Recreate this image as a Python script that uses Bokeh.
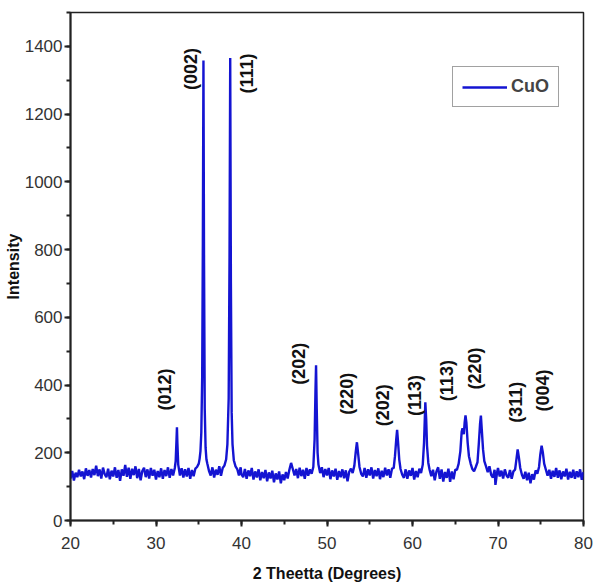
import math
from bokeh.plotting import figure
from bokeh.models import ColumnDataSource, SingleIntervalTicker, Legend, LegendItem, Range1d
from bokeh.core.properties import value
from bokeh.embed import file_html
from bokeh.resources import INLINE

# 2-theta (degrees) and intensity
two_theta = [
    20.0, 20.2, 20.4, 20.6, 20.8, 21.0, 21.2, 21.4, 21.6, 21.8,
    22.0, 22.2, 22.4, 22.6, 22.8, 23.0, 23.2, 23.4, 23.6, 23.8,
    24.0, 24.2, 24.4, 24.6, 24.8, 25.0, 25.2, 25.4, 25.6, 25.8,
    26.0, 26.2, 26.4, 26.6, 26.8, 27.0, 27.2, 27.4, 27.6, 27.8,
    28.0, 28.2, 28.4, 28.6, 28.8, 29.0, 29.2, 29.4, 29.6, 29.8,
    30.0, 30.2, 30.4, 30.6, 30.8, 31.0, 31.2, 31.4, 31.6, 31.8,
    32.0, 32.2, 32.3, 32.4, 32.45, 32.5, 32.6, 32.8, 33.0, 33.2,
    33.4, 33.6, 33.8, 34.0, 34.2, 34.4, 34.6, 34.8, 35.0, 35.1,
    35.2, 35.3, 35.4, 35.48, 35.55, 35.62, 35.7, 35.8, 35.9, 36.0,
    36.2, 36.4, 36.6, 36.8, 37.0, 37.2, 37.4, 37.6, 37.8, 38.0,
    38.2, 38.35, 38.5, 38.6, 38.68, 38.76, 38.85, 38.95, 39.1, 39.3,
    39.5, 39.7, 39.9, 40.0, 40.2, 40.4, 40.6, 40.8, 41.0, 41.2,
    41.4, 41.6, 41.8, 42.0, 42.2, 42.4, 42.6, 42.8, 43.0, 43.2,
    43.4, 43.6, 43.8, 44.0, 44.2, 44.4, 44.6, 44.8, 45.0, 45.2,
    45.4, 45.6, 45.8, 46.0, 46.2, 46.4, 46.6, 46.8, 47.0, 47.2,
    47.4, 47.6, 47.8, 48.0, 48.2, 48.4, 48.55, 48.65, 48.72, 48.8,
    48.9, 49.0, 49.2, 49.4, 49.6, 49.8, 50.0, 50.2, 50.4, 50.6,
    50.8, 51.0, 51.2, 51.4, 51.6, 51.8, 52.0, 52.2, 52.4, 52.6,
    52.8, 53.0, 53.2, 53.35, 53.5, 53.65, 53.8, 54.0, 54.2, 54.4,
    54.6, 54.8, 55.0, 55.2, 55.4, 55.6, 55.8, 56.0, 56.2, 56.4,
    56.6, 56.8, 57.0, 57.2, 57.4, 57.6, 57.8, 57.95, 58.1, 58.2,
    58.3, 58.45, 58.6, 58.8, 59.0, 59.2, 59.4, 59.6, 59.8, 60.0,
    60.2, 60.4, 60.6, 60.8, 61.0, 61.2, 61.35, 61.5, 61.6, 61.7,
    61.85, 62.0, 62.2, 62.4, 62.6, 62.8, 63.0, 63.2, 63.4, 63.6,
    63.8, 64.0, 64.2, 64.4, 64.6, 64.8, 65.0, 65.2, 65.4, 65.6,
    65.75, 65.85, 66.0, 66.1, 66.2, 66.3, 66.45, 66.6, 66.8, 67.0,
    67.2, 67.4, 67.6, 67.75, 67.9, 68.0, 68.1, 68.25, 68.4, 68.6,
    68.8, 69.0, 69.2, 69.4, 69.6, 69.7, 69.9, 70.0, 70.2, 70.4,
    70.6, 70.8, 71.0, 71.2, 71.4, 71.6, 71.8, 72.0, 72.15, 72.3,
    72.45, 72.6, 72.8, 73.0, 73.2, 73.4, 73.6, 73.8, 74.0, 74.2,
    74.4, 74.6, 74.8, 74.95, 75.1, 75.25, 75.4, 75.6, 75.8, 76.0,
    76.2, 76.4, 76.6, 76.8, 77.0, 77.2, 77.4, 77.6, 77.8, 78.0,
    78.2, 78.4, 78.6, 78.8, 79.0, 79.2, 79.4, 79.6, 79.8, 80.0,
]
intensity = [
    124, 146, 118, 141, 128, 150, 130, 145, 122, 154,
    132, 149, 127, 152, 134, 162, 131, 151, 124, 156,
    137, 128, 153, 122, 147, 130, 157, 126, 149, 117,
    151, 132, 164, 129, 156, 123, 153, 134, 160, 125,
    152, 119, 146, 156, 128, 151, 124, 155, 132, 150,
    121, 146, 128, 154, 123, 149, 131, 157, 126, 152,
    133, 155, 175, 240, 275, 230, 165, 133, 154, 127,
    151, 130, 155, 123, 149, 131, 153, 158, 168, 182,
    205, 260, 420, 820, 1358, 760, 330, 215, 180, 168,
    146, 133, 157, 127, 150, 135, 160, 132, 155, 162,
    180, 225, 360, 780, 1366, 700, 320, 225, 178, 160,
    152, 133, 157, 136, 128, 152, 123, 148, 131, 155,
    121, 145, 127, 151, 119, 143, 125, 149, 116, 142,
    124, 147, 113, 139, 121, 145, 110, 136, 119, 143,
    124, 150, 170, 152, 133, 152, 125, 156, 131, 150,
    123, 155, 132, 151, 138, 158, 240, 380, 458, 330,
    200, 165, 140, 157, 128, 152, 133, 155, 122, 148,
    130, 153, 120, 146, 128, 151, 125, 148, 116, 144,
    153, 140, 162, 200, 231, 195, 158, 138, 130, 155,
    126, 151, 133, 157, 124, 149, 131, 154, 122, 147,
    128, 156, 133, 151, 126, 153, 155, 190, 240, 268,
    235, 180, 152, 135, 126, 151, 123, 148, 132, 155,
    121, 146, 128, 153, 140, 165, 230, 349, 300, 220,
    170, 150, 131, 150, 119, 145, 157, 123, 151, 115,
    143, 126, 153, 114, 145, 122, 150, 150, 168, 205,
    262, 272, 255, 290, 310, 290, 230, 190, 168, 152,
    145, 158, 172, 225, 285, 310, 270, 210, 175, 160,
    143, 160, 135, 127, 150, 105, 143, 155, 130, 147,
    124, 151, 133, 126, 149, 123, 145, 150, 180, 210,
    185, 155, 135, 123, 144, 119, 141, 110, 137, 121,
    148, 138, 158, 195, 221, 200, 168, 150, 132, 150,
    123, 147, 129, 155, 126, 148, 122, 145, 130, 153,
    121, 144, 126, 150, 123, 145, 128, 151, 120, 143,
]

# Miller-index annotations
label_text = ["(012)", "(002)", "(111)", "(202)", "(220)", "(202)",
              "(113)", "(113)", "(220)", "(311)", "(004)"]
label_x = [31.1, 34.1, 40.6, 46.7, 52.3, 56.6, 60.35, 64.0, 67.3, 72.1, 75.27]
label_y = [387, 1333, 1320, 463, 374, 340, 369, 413, 449, 349, 384]

FONT = "Liberation Sans"

p = figure(width=593, height=585, output_backend="svg", toolbar_location=None,
           x_range=Range1d(20, 80), y_range=Range1d(0, 1500),
           min_border_left=70, min_border_right=10, min_border_top=12, min_border_bottom=65)
p.background_fill_color = "white"
p.border_fill_color = "white"
p.xgrid.visible = False
p.ygrid.visible = False
p.outline_line_color = "#222222"
p.outline_line_width = 1.5

src = ColumnDataSource(dict(x=two_theta, y=intensity))
line = p.line("x", "y", source=src, line_color="#1414d2", line_width=2.4)

lsrc = ColumnDataSource(dict(x=label_x, y=label_y, t=label_text))
p.text("x", "y", text="t", source=lsrc, angle=math.pi / 2,
       text_align="center", text_baseline="middle",
       text_font=value(FONT), text_font_style="bold", text_font_size="18px",
       text_color="#111111")

p.xaxis.ticker = SingleIntervalTicker(interval=10, num_minor_ticks=2)
p.yaxis.ticker = SingleIntervalTicker(interval=200, num_minor_ticks=2)
for ax in (p.xaxis[0], p.yaxis[0]):
    ax.axis_line_width = 2
    ax.axis_line_color = "#222222"
    ax.major_tick_line_width = 2
    ax.minor_tick_line_width = 2
    ax.major_tick_line_color = "#222222"
    ax.minor_tick_line_color = "#222222"
    ax.major_tick_out = 6
    ax.major_tick_in = 0
    ax.minor_tick_out = 4
    ax.minor_tick_in = 0
    ax.major_label_text_font = FONT
    ax.major_label_text_font_size = "17px"
    ax.major_label_text_color = "#333333"
    ax.axis_label_text_font = FONT
    ax.axis_label_text_font_style = "bold"
    ax.axis_label_text_font_size = "16px"
    ax.axis_label_text_color = "#111111"

p.xaxis.axis_label = "2 Theetta (Degrees)"
p.yaxis.axis_label = "Intensity"
p.xaxis.major_label_standoff = 10
p.xaxis.axis_label_standoff = 13
p.yaxis.major_label_standoff = 2
p.yaxis.axis_label_standoff = 0

legend = Legend(items=[LegendItem(label="CuO", renderers=[line])],
                location=(382, 413))
legend.label_text_font = FONT
legend.label_text_font_style = "bold"
legend.label_text_font_size = "18px"
legend.border_line_color = "#444444"
legend.border_line_width = 1.5
legend.glyph_width = 45
legend.padding = 9
legend.margin = 0
legend.label_standoff = 4
p.add_layout(legend, "center")

open("out.html", "w").write(file_html(p, INLINE))
